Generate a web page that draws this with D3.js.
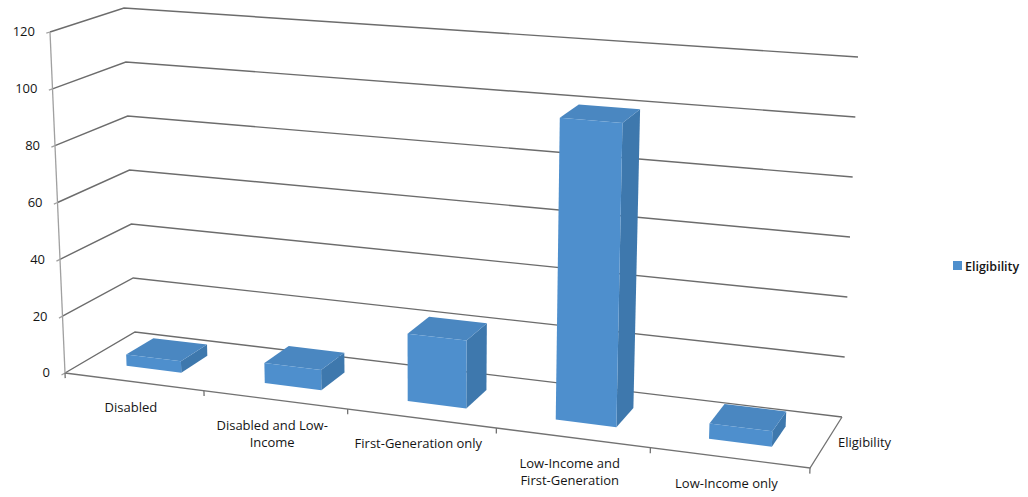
<!DOCTYPE html>
<html>
<head>
<meta charset="utf-8">
<script src="https://cdn.jsdelivr.net/npm/d3@7"></script>
<style>
  html, body { margin: 0; padding: 0; background: #fff; }
  svg { display: block; font-family: "Open Sans", "Liberation Sans", sans-serif; }
</style>
</head>
<body>
<svg id="chart" width="1028" height="497"></svg>
<script>
// Eligibility counts by student category
const categories = [
  "Disabled",
  "Disabled and Low-Income",
  "First-Generation only",
  "Low-Income and First-Generation",
  "Low-Income only"
];
const categoryLines = [
  ["Disabled"],
  ["Disabled and Low-", "Income"],
  ["First-Generation only"],
  ["Low-Income and", "First-Generation"],
  ["Low-Income only"]
];
const values = [4, 7, 23, 101, 5];
const seriesName = "Eligibility";
const yTicks = [0, 20, 40, 60, 80, 100, 120];

const svg = d3.select("#chart");

// Projected corners of the 3D plot box (u: category, v: value, w: depth; 0 = front).
const corner = {
  "000": [65, 373],  "010": [50, 32],
  "001": [135, 332], "011": [124, 8],
  "100": [810, 468], "110": [825, 92],
  "101": [842, 417], "111": [858, 57]
};
// perspective foreshortening along the category axis
const persp = 0.917;
const warp = u => persp * u / (1 + (persp - 1) * u);

function project(u, v, w) {
  const a = warp(u), b = v, c = w;
  let x = 0, y = 0;
  for (const i of [0, 1]) for (const j of [0, 1]) for (const k of [0, 1]) {
    const wt = (i ? a : 1 - a) * (j ? b : 1 - b) * (k ? c : 1 - c);
    const p = corner["" + i + j + k];
    x += wt * p[0]; y += wt * p[1];
  }
  return [x, y];
}

const yScale = d3.scaleLinear().domain([0, 120]).range([0, 1]);
const xBand = d3.scaleBand().domain(categories).range([0, 1]).paddingInner(0.6).paddingOuter(0.3);
const depthFront = 0.3, depthBack = 0.7;

const line = d3.line();
const poly = pts => line(pts) + "Z";

// Gridlines on the left side wall and back wall
const grid = svg.append("g").attr("fill", "none").attr("stroke", "#6c6c6c").attr("stroke-width", 1.4);
yTicks.forEach(t => {
  const v = yScale(t);
  grid.append("path").attr("d", line([project(0, v, 0), project(0, v, 1), project(1, v, 1)]));
});

// Floor outline and value axis line
const axes = svg.append("g").attr("fill", "none").attr("stroke", "#727272").attr("stroke-width", 1.3);
axes.append("path").attr("d", line([project(0, 0, 0), project(1, 0, 0), project(1, 0, 1)]));
axes.append("path").attr("d", line([project(0, 0, 0), project(0, 1, 0)])).attr("stroke", "#a0a0a0");

// Value axis ticks and labels
yTicks.forEach(t => {
  const v = yScale(t);
  const p = project(0, v, 0);
  axes.append("path").attr("d", line([p, project(0, v, -0.05)])).attr("stroke", "#a0a0a0");
  svg.append("text")
    .attr("x", p[0] - 15).attr("y", p[1] + 1)
    .attr("text-anchor", "end").attr("dominant-baseline", "middle")
    .attr("font-size", 13).attr("font-weight", 500).attr("fill", "#151515")
    .text(t);
});

// Category ticks on the front edge of the floor
d3.range(categories.length + 1).forEach(i => {
  const u = i / categories.length;
  axes.append("path").attr("d", line([project(u, 0, 0), project(u, -0.015, 0)]));
});

// Bars as boxes: front, top and right faces
const bars = svg.append("g");
categories.forEach((c, i) => {
  const u0 = xBand(c), u1 = u0 + xBand.bandwidth();
  const v = yScale(values[i]);
  const g = bars.append("g");
  g.append("path").attr("fill", "#3e78ad")
    .attr("d", poly([project(u1, 0, depthFront), project(u1, 0, depthBack), project(u1, v, depthBack), project(u1, v, depthFront)]));
  g.append("path").attr("fill", "#4a87c1")
    .attr("d", poly([project(u0, v, depthFront), project(u1, v, depthFront), project(u1, v, depthBack), project(u0, v, depthBack)]));
  g.append("path").attr("fill", "#4e8fcd")
    .attr("d", poly([project(u0, 0, depthFront), project(u1, 0, depthFront), project(u1, v, depthFront), project(u0, v, depthFront)]));
});

// Category labels
categories.forEach((c, i) => {
  const p = project(xBand(c) + xBand.bandwidth() / 2, 0, 0);
  const txt = svg.append("text")
    .attr("text-anchor", "middle").attr("font-size", 13).attr("font-weight", 500).attr("fill", "#151515");
  categoryLines[i].forEach((s, k) => {
    txt.append("tspan").attr("x", p[0] - 3).attr("y", p[1] + 30 + k * 17.5).text(s);
  });
});

// Series label on the depth axis
const dp = project(1, 0, 0.5);
svg.append("text")
  .attr("x", dp[0] + 12).attr("y", dp[1] + 4)
  .attr("font-size", 13).attr("font-weight", 500).attr("fill", "#151515")
  .text(seriesName);

// Legend
const legend = svg.append("g").attr("transform", "translate(953,261)");
legend.append("rect").attr("width", 9).attr("height", 9).attr("fill", "#4e8fcd");
legend.append("text").attr("x", 12).attr("y", 9.5)
  .attr("font-size", 12.5).attr("font-weight", 600).attr("fill", "#151515")
  .text(seriesName);
</script>
</body>
</html>
